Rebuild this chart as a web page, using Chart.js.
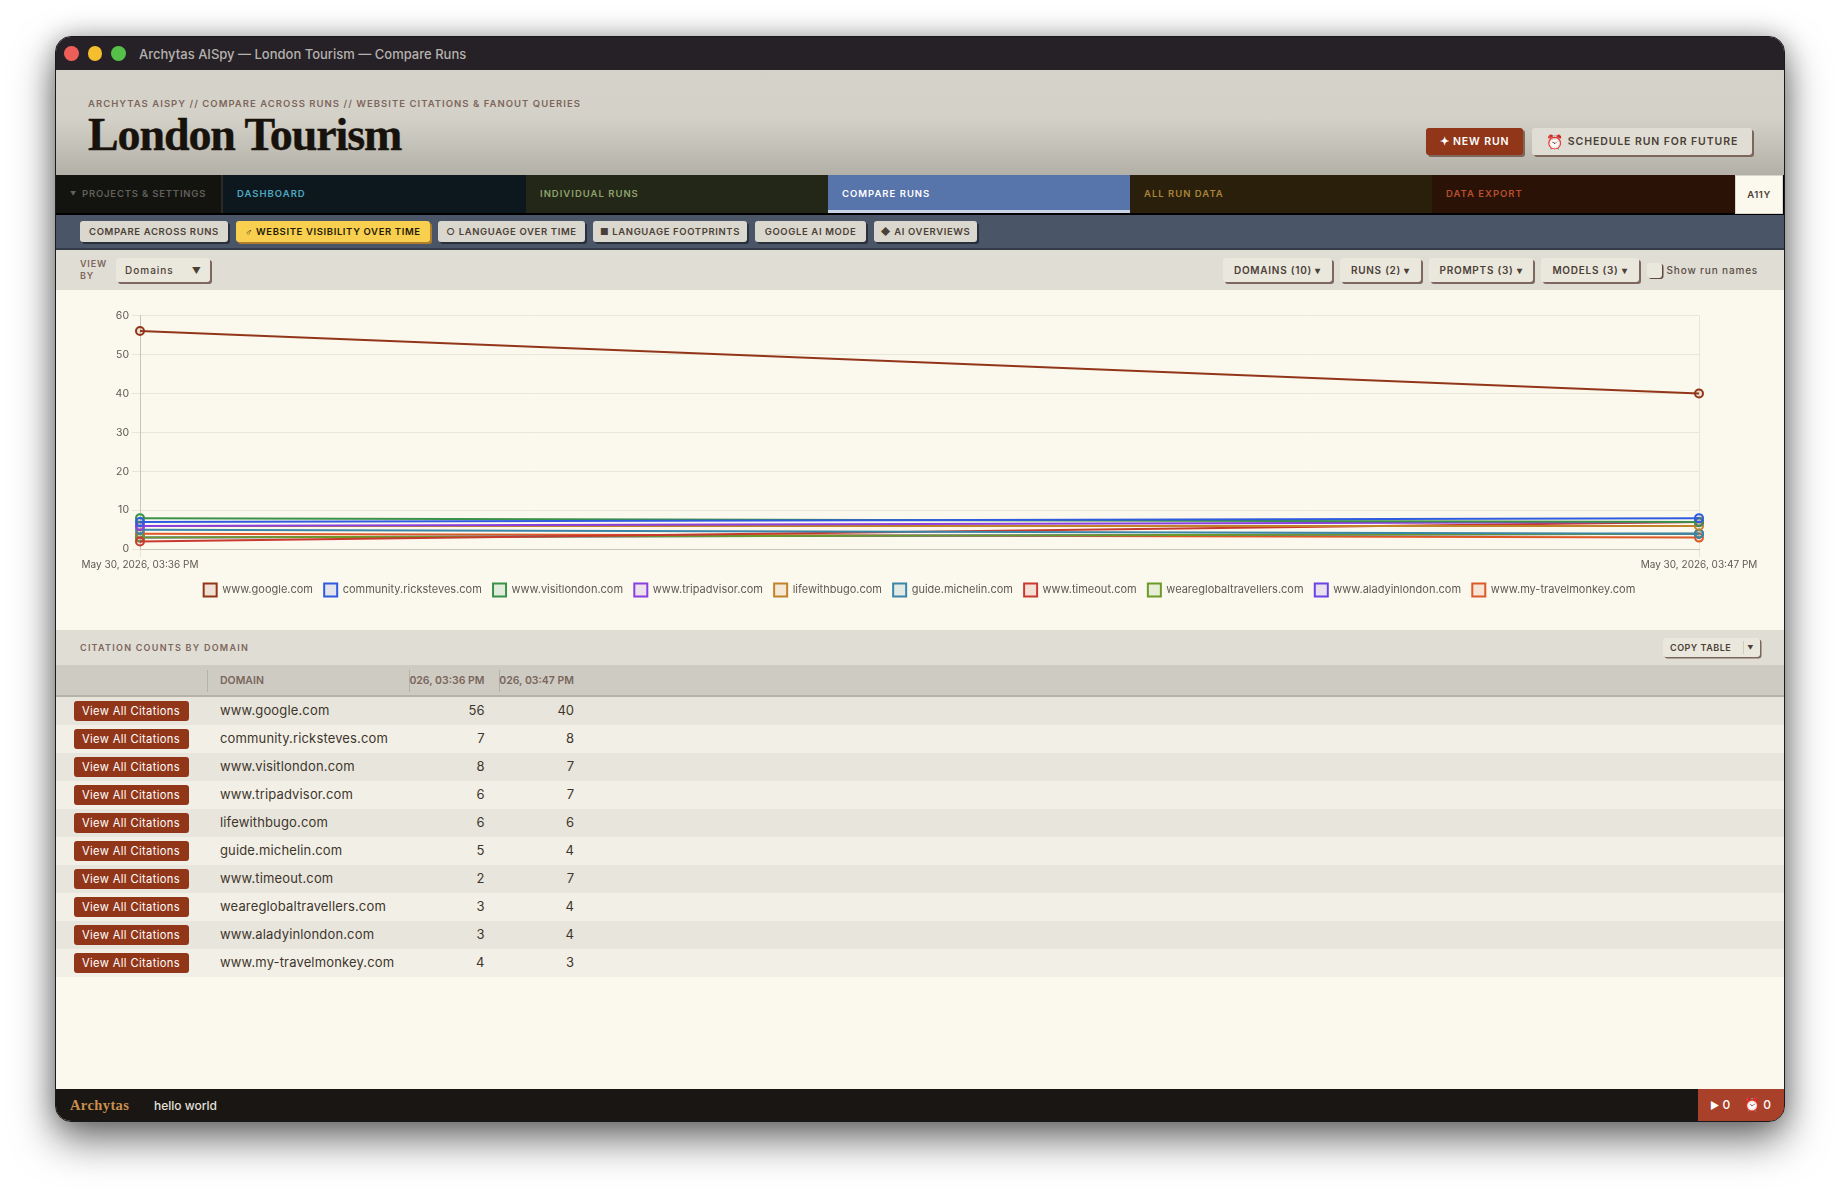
<!DOCTYPE html>
<html lang="en"><head><meta charset="utf-8">
<title>Archytas AISpy — London Tourism — Compare Runs</title>
<script src="https://cdn.jsdelivr.net/npm/chart.js@4"></script>
<style>
*{box-sizing:border-box}
html,body{margin:0;width:1840px;height:1195px;overflow:hidden;background:#fff;font-family:Inter,"Open Sans",sans-serif}
#win{position:absolute;left:55px;top:36px;width:1730px;height:1086px;border-radius:16px;border:1.5px solid #1a1a1e;box-shadow:0 18px 42px rgba(0,0,0,.55),0 0 24px rgba(0,0,0,.25);background:#fbf8ee;overflow:hidden}
.a{position:absolute;white-space:nowrap}
.band{position:absolute;left:0;width:100%}
.up{text-transform:uppercase;font-weight:600;letter-spacing:1px}
.pill{position:absolute;display:flex;align-items:center;justify-content:center;white-space:nowrap;font-size:9.5px;font-weight:600;letter-spacing:.62px;text-transform:uppercase;border-radius:3px;background:#dad7ce;color:#4a4036;box-shadow:2px 2px 0 #2a2f3c}
.drop{position:absolute;display:flex;align-items:center;justify-content:center;white-space:nowrap;font-size:10px;font-weight:600;letter-spacing:.75px;border-radius:3px;background:#eae7dd;color:#4a4036;box-shadow:2px 2px 0 #7d675e}
.tab{position:absolute;top:138px;height:38px;display:flex;align-items:center;padding-left:14px;padding-bottom:2px;font-size:9.5px;font-weight:600;letter-spacing:1px;text-transform:uppercase;white-space:nowrap}
#rows .r{position:absolute;left:0;width:100%;height:28px}
.btn{position:absolute;left:17.5px;top:4px;width:115px;height:20px;border-radius:3px;background:#92361a;color:#fff;font-size:11.2px;font-weight:400;display:flex;align-items:center;justify-content:center;letter-spacing:.35px;padding-bottom:1px}
.dom{position:absolute;left:164px;top:5px;font-size:13px;color:#3e352c;letter-spacing:.15px;white-space:nowrap}
.val{position:absolute;top:5px;font-size:13px;color:#3e352c;width:60px;text-align:right}
.th{position:absolute;top:-1px;height:32px;display:flex;align-items:center;font-size:10.5px;font-weight:600;color:#7a665c;overflow:hidden;white-space:nowrap}
.sep{position:absolute;top:5px;height:22px;width:1px;background:#b5b2a8}
</style></head><body>
<div id="win">
  <div class="band" style="top:0;height:33px;background:#252126"></div>
  <div class="a" style="left:8px;top:9px;width:14.5px;height:15px;border-radius:50%;background:#ec5e57"></div>
  <div class="a" style="left:31.5px;top:9px;width:14.5px;height:15px;border-radius:50%;background:#f5be2e"></div>
  <div class="a" style="left:55px;top:9px;width:14.5px;height:15px;border-radius:50%;background:#55c04a"></div>
  <div class="a" style="left:83px;top:9px;font-size:13px;font-weight:500;color:#b5b1ae">Archytas AISpy — London Tourism — Compare Runs</div>

  <div class="band" style="top:33px;height:105px;background:linear-gradient(#d6d3ca 0%,#d4d1c8 45%,#b3b0a8 100%)"></div>
  <div class="a up" style="left:32px;top:61px;font-size:9.5px;letter-spacing:1.04px;color:#7d665c">ARCHYTAS AISPY // COMPARE ACROSS RUNS // WEBSITE CITATIONS &amp; FANOUT QUERIES</div>
  <div class="a" style="left:32px;top:71px;font-family:'Liberation Serif',serif;font-weight:700;font-size:46px;letter-spacing:-1.1px;-webkit-text-stroke:.4px #17120c;color:#17120c">London Tourism</div>
  <div class="pill" style="left:1370px;top:91px;width:97px;height:27px;background:#92361a;color:#fff;font-size:10.5px;letter-spacing:.9px;box-shadow:2px 2px 0 #7d665c">✦ New Run</div>
  <div class="pill" style="left:1476px;top:91px;width:220px;height:27px;background:#e0ddd4;font-size:10.5px;letter-spacing:.9px;box-shadow:2px 2px 0 #7d665c"><span style="font-size:14px;margin-right:5px;letter-spacing:0">⏰</span>Schedule Run for Future</div>

  <div class="band" style="top:138px;height:40px;background:#000"></div>
  <div class="tab" style="left:0;width:167px;background:#131310;color:#62605a;padding-left:14px;letter-spacing:.8px;border-right:2px solid #2a2a26"><span style="font-size:6px;margin-right:5px">▼</span>Projects &amp; Settings</div>
  <div class="tab" style="left:167px;width:303px;background:#0c181e;color:#4fa8c0">Dashboard</div>
  <div class="tab" style="left:470px;width:302px;background:#232718;color:#8fa26c">Individual Runs</div>
  <div class="tab" style="left:772px;width:302px;background:#5774ab;color:#fff;box-shadow:inset 0 -3px 0 #c8d2e6">Compare Runs</div>
  <div class="tab" style="left:1074px;width:302px;background:#2a1f0a;color:#a8843a">All Run Data</div>
  <div class="tab" style="left:1376px;width:303px;background:#2a1206;color:#b85030">Data Export</div>
  <div class="tab" style="left:1679px;width:48px;height:39px;padding:0;justify-content:center;background:#fbf8ee;color:#4a4036;border:1px solid #d8d5ca;letter-spacing:.6px">A11Y</div>

  <div class="band" style="top:178px;height:35px;background:#4a5568;border-bottom:2px solid #333b4a"></div>
  <div id="subnav"></div>

  <div class="band" style="top:213px;height:40px;background:#e0ddd4"></div>
  <div class="a up" style="left:24px;top:221px;font-size:9px;line-height:12px;letter-spacing:.8px;color:#7d665c;white-space:normal;width:30px">VIEW<br>BY</div>
  <div class="drop" style="left:60px;top:221px;width:94px;height:24px;justify-content:flex-start;padding-left:9px;font-weight:500;font-size:10px;letter-spacing:1px">Domains<span style="position:absolute;right:8px;font-size:9px">▼</span></div>
  <div id="filters"></div>
  <div class="a" style="left:1590.5px;top:226px;width:15px;height:15px;border-radius:3px;background:#eae7dd;box-shadow:1.5px 1px 0 #5a4a42"></div>
  <div class="a" style="left:1610.5px;top:226.5px;font-size:10px;font-weight:500;letter-spacing:.85px;color:#5a4e44">Show run names</div>

  <canvas id="chart" width="1727" height="340" style="position:absolute;left:0;top:253px;width:1727px;height:340px"></canvas>

  <div class="band" style="top:593px;height:35px;background:#e0ddd4"></div>
  <div class="a up" style="left:24px;top:605px;font-size:9px;letter-spacing:1.25px;color:#7d665c">Citation Counts by Domain</div>
  <div class="pill" style="left:1607px;top:601px;width:97px;height:19px;background:#eae7dd;font-size:9px;letter-spacing:.5px;box-shadow:1.5px 1.5px 0 #7d665c;justify-content:flex-start;padding-left:7px">Copy Table<span style="position:absolute;right:16px;top:3px;width:1px;height:13px;background:#cfccc2"></span><span style="position:absolute;right:6px;font-size:6px">▼</span></div>
  <div class="band" id="thead" style="top:628px;height:32px;background:#cecbc2;border-bottom:2px solid #b5b2a8"></div>
  <div class="band" id="rows" style="top:660px;height:280px"></div>

  <div class="band" style="top:1052px;height:33px;background:#1a1613"></div>
  <div class="a" style="left:14px;top:1060px;font-family:'Liberation Serif',serif;font-weight:700;font-size:14.5px;letter-spacing:.4px;color:#c98f4e">Archytas</div>
  <div class="a" style="left:98px;top:1061px;font-size:12px;font-weight:500;color:#e4e1da">hello world</div>
  <div class="a" style="left:1642px;top:1052px;width:86px;height:33px;background:#a8402a"></div>
  <div class="a" style="left:1654px;top:1060px;font-size:12px;font-weight:500;color:#fff"><span style="font-size:10px">▶</span> 0</div>
  <div class="a" style="left:1688px;top:1059px;font-size:12px;font-weight:500;color:#fff"><span style="font-size:13px">⏰</span> 0</div>
</div>
<script>
const runLabels = ["May 30, 2026, 03:36 PM", "May 30, 2026, 03:47 PM"];
const domains = ["www.google.com","community.ricksteves.com","www.visitlondon.com","www.tripadvisor.com","lifewithbugo.com","guide.michelin.com","www.timeout.com","weareglobaltravellers.com","www.aladyinlondon.com","www.my-travelmonkey.com"];
const run1Counts = [56,7,8,6,6,5,2,3,3,4];
const run2Counts = [40,8,7,7,6,4,7,4,4,3];
const seriesColors = ["#92361a","#2f5be0","#3a9148","#8a3fe0","#c0832a","#3a85a8","#c93a2e","#6a9a28","#6a42e8","#dd5a28"];
const subnavItems = [["Compare Across Runs",24,148],["♂ Website Visibility Over Time",180,194],["○ Language Over Time",382,147],["■ Language Footprints",537,154],["Google AI Mode",699,111],["◆ AI Overviews",818,103]];
const filterItems = [["DOMAINS (10) ▾",1167,109],["RUNS (2) ▾",1284,81],["PROMPTS (3) ▾",1373,104],["MODELS (3) ▾",1485,98]];

document.getElementById('subnav').innerHTML = subnavItems.map(([t,l,w],i)=>
  `<div class="pill" style="left:${l}px;top:184px;width:${w}px;height:21px;${i==1?'background:#f8cf4e;color:#241a08;box-shadow:2px 2px 0 #b07d2a;':''}">${t}</div>`).join('');
document.getElementById('filters').innerHTML = filterItems.map(([t,l,w])=>
  `<div class="drop" style="left:${l}px;top:221px;width:${w}px;height:24px">${t}</div>`).join('');
document.getElementById('thead').innerHTML =
  `<div class="sep" style="left:150.5px"></div><div class="sep" style="left:352.5px"></div><div class="sep" style="left:442.5px"></div>
   <div class="th" style="left:164px">DOMAIN</div>
   <div class="th" style="left:353px;width:75.5px;justify-content:flex-end">${runLabels[0]}</div>
   <div class="th" style="left:443px;width:75px;justify-content:flex-end">${runLabels[1]}</div>`;
document.getElementById('rows').innerHTML = domains.map((d,i)=>
  `<div class="r" style="top:${i*28}px;background:${i%2?'#f2f0e6':'#e8e6dc'}"><div class="btn">View All Citations</div><div class="dom">${d}</div><div class="val" style="left:368.5px">${run1Counts[i]}</div><div class="val" style="left:458px">${run2Counts[i]}</div></div>`).join('');

new Chart(document.getElementById('chart'), {
  type:'line',
  data:{labels:runLabels,datasets:domains.map((d,i)=>({
    label:d,data:[run1Counts[i],run2Counts[i]],
    borderColor:seriesColors[i],backgroundColor:seriesColors[i]+'1f',
    pointBackgroundColor:seriesColors[i]+'1f',pointBorderColor:seriesColors[i],
    borderWidth:2,pointRadius:4,pointBorderWidth:2,tension:0,fill:false}))},
  options:{responsive:false,animation:false,
    layout:{padding:{left:58,right:84,top:25.5,bottom:23.5}},
    plugins:{tooltip:{enabled:false},legend:{position:'bottom',fullSize:false,
      labels:{boxWidth:13,boxHeight:13,padding:11.2,color:'#5f5a54',font:{family:'Inter',size:11}}}},
    scales:{
      x:{offset:false,grid:{color:'#e9e6d8',tickLength:8},border:{color:'#c9c6b8'},
         afterFit(s){s.height-=1;},
         ticks:{autoSkip:false,maxRotation:0,color:'#5f5a54',font:{family:'Inter',size:10},padding:2}},
      y:{min:0,max:60,grid:{color:'#e9e6d8',tickLength:8},border:{color:'#c9c6b8'},
         afterFit(s){s.width=26;},
         ticks:{stepSize:10,color:'#5f5a54',font:{family:'Inter',size:10.5},padding:3}}
    }}
});
</script>
</body></html>
